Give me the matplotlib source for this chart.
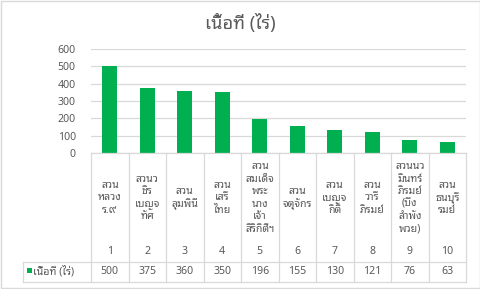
import matplotlib
matplotlib.use('Agg')
import matplotlib.pyplot as plt
from matplotlib.patches import Rectangle
import matplotlib.transforms as mtransforms

plt.rcParams['font.family'] = ['Noto Sans Thai Looped', 'DejaVu Sans']

title = "เนื้อที่ (ไร่)"
series_name = "เนื้อที่ (ไร่)"
categories = ["สวน\nหลวง\nร.๙", "สวนว\nชิร\nเบญจ\nทัศ", "สวน\nลุมพินี", "สวน\nเสรี\nไทย",
              "สวน\nสมเด็จ\nพระ\nนาง\nเจ้า\nสิริกิติ์ฯ", "สวน\nจตุจักร", "สวน\nเบญจ\nกิติ",
              "สวน\nวารี\nภิรมย์", "สวนนว\nมินทร์\nภิรมย์\n(บึง\nลำพัง\nพวย)", "สวน\nธนบุรี\nรมย์"]
ranks = ["1", "2", "3", "4", "5", "6", "7", "8", "9", "10"]
values = [500, 375, 360, 350, 196, 155, 130, 121, 76, 63]
yticks = [0, 100, 200, 300, 400, 500, 600]

W, H = 481, 289
fig = plt.figure(figsize=(W/100, H/100), dpi=100)
fig.patch.set_facecolor('white')

def fx(px): return px / W
def fy(py): return 1 - py / H

# plot area
x0, x1, ytop, ybot = 91, 466, 49, 153
ax = fig.add_axes([fx(x0), fy(ybot), fx(x1) - fx(x0), fy(ytop) - fy(ybot)])
green = '#00B050'
grid = '#D9D9D9'
txt = '#595959'
fs = 7.6
n = len(values)
ax.bar(range(n), values, width=0.4, color=green, zorder=3)
ax.set_xlim(-0.5, n - 0.5)
ax.set_ylim(0, 600)
ax.set_yticks(yticks)
ax.set_yticklabels([str(v) for v in yticks])
ax.tick_params(axis='y', length=0, pad=11, labelsize=fs, labelcolor=txt)
ax.tick_params(axis='x', length=0, labelbottom=False)
ax.yaxis.grid(True, color=grid, linewidth=0.9, zorder=0)
for s in ax.spines.values():
    s.set_visible(False)
ax.set_facecolor('none')

# data table
tr = mtransforms.blended_transform_factory(ax.transData, fig.transFigure)
y_sep = 262
y_end = 281.5
line_kw = dict(color=grid, linewidth=0.9, clip_on=False)
fig.add_artist(plt.Line2D([fx(x0), fx(x1)], [fy(ybot), fy(ybot)], transform=fig.transFigure, **line_kw))
fig.add_artist(plt.Line2D([fx(23), fx(x1)], [fy(y_sep), fy(y_sep)], transform=fig.transFigure, **line_kw))
fig.add_artist(plt.Line2D([fx(23), fx(x1)], [fy(y_end), fy(y_end)], transform=fig.transFigure, **line_kw))
fig.add_artist(plt.Line2D([fx(23), fx(23)], [fy(y_sep), fy(y_end)], transform=fig.transFigure, **line_kw))
for k in range(n + 1):
    xe = k - 0.5
    ax.add_line(plt.Line2D([xe, xe], [fy(ybot), fy(y_end)], transform=tr, **line_kw))

for i in range(n):
    ax.text(i, fy(198), categories[i], transform=tr, ha='center', va='center',
            fontsize=fs, color=txt, linespacing=1.18, clip_on=False)
    ax.text(i, fy(252), ranks[i], transform=tr, ha='center', va='center',
            fontsize=fs, color=txt, clip_on=False)
    ax.text(i, fy(271.5), str(values[i]), transform=tr, ha='center', va='center',
            fontsize=fs, color=txt, clip_on=False)

# legend key in table
fig.add_artist(Rectangle((fx(26.5), fy(273)), fx(5), fy(268) - fy(273), transform=fig.transFigure,
                         facecolor=green, edgecolor='none'))
fig.text(fx(33), fy(271.5), series_name, ha='left', va='center', fontsize=fs, color=txt)

# title
fig.text(0.5, fy(23), title, ha='center', va='center', fontsize=13, color=txt)

# chart border
fig.add_artist(Rectangle((fx(1), fy(287.5)), fx(478.5), fy(1) - fy(287.5), transform=fig.transFigure,
                         facecolor='none', edgecolor=grid, linewidth=1))

fig.savefig('out.png', dpi=100, facecolor='white')
